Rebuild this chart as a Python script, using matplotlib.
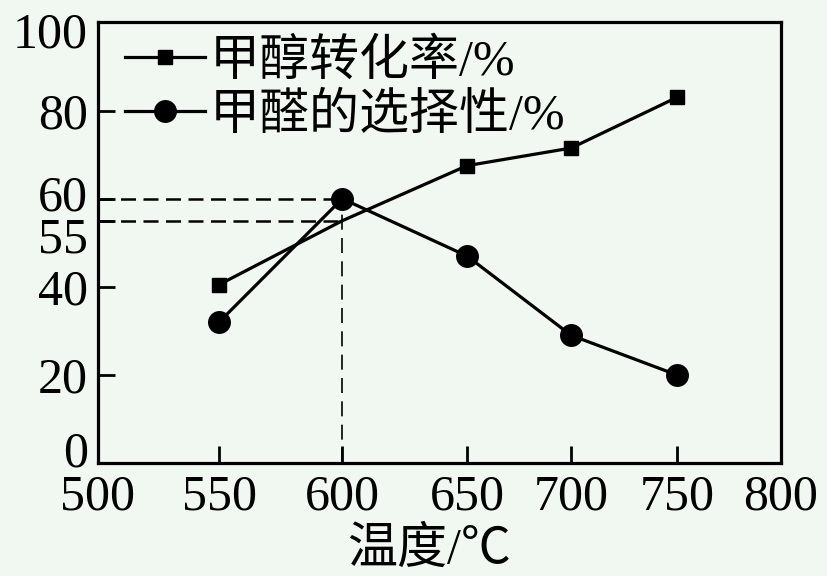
import numpy as np
import matplotlib.pyplot as plt
from matplotlib.transforms import ScaledTranslation

plt.rcParams['font.family'] = ['Liberation Serif', 'Noto Sans CJK SC', 'DejaVu Sans']

# data
temps = [550, 600, 650, 700, 750]
conversion = [40.5, 55, 67.5, 71.5, 83]      # methanol conversion, %
selectivity = [32, 60, 47, 29, 20]            # formaldehyde selectivity, %
x_ticks = [500, 550, 600, 650, 700, 750, 800]
y_ticks = [0, 20, 40, 55, 60, 80, 100]
labels = ['甲醇转化率/%', '甲醛的选择性/%']
xlabel = '温度/℃'

# the printed x axis is not evenly spaced, warp it piecewise
warp = [500, 553.3, 607.4, 662.2, 707.9, 754.4, 800]
def fwd(x):
    return np.interp(x, x_ticks, warp)
def inv(x):
    return np.interp(x, warp, x_ticks)

bg = '#f1f7f1'
fig = plt.figure(figsize=(8.28, 5.76), dpi=100, facecolor=bg)
ax = fig.add_axes([0.118, 0.196, 0.825, 0.765], facecolor=bg)
ax.set_xscale('function', functions=(fwd, inv))

ax.plot(temps, conversion, color='black', lw=2.3, marker='s', ms=10.5,
        markevery=[0, 2, 3, 4], label=labels[0])
ax.plot(temps, selectivity, color='black', lw=2.3, marker='o', ms=15.5,
        label=labels[1])

# guide lines at 600 degC
dash = (0, (6, 3))
ax.plot([500, 600], [60, 60], color='black', lw=1.8, ls=dash)
ax.plot([500, 600], [55, 55], color='black', lw=1.8, ls=dash)
ax.plot([600, 600], [0, 60], color='black', lw=1.2, ls=(0, (9, 5)))

ax.set_xlim(500, 800)
ax.set_ylim(0, 100)
ax.set_xticks(x_ticks)
ax.set_yticks(y_ticks)
ax.minorticks_off()
ax.tick_params(direction='in', length=12, width=2, labelsize=36, pad=7)
ax.tick_params(axis='x', pad=8)
for s in ax.spines.values():
    s.set_linewidth(2.3)
ax.set_xlabel(xlabel, fontsize=36, labelpad=4)
ax.xaxis.set_label_coords(0.485, -0.145)

# nudge a few y labels like the printed figure
shift = {0: 10, 100: -5, 55: -10, 60: 4}
for val, tick in zip(y_ticks, ax.yaxis.get_major_ticks()):
    if val in shift:
        lab = tick.label1
        lab.set_transform(lab.get_transform() +
                          ScaledTranslation(0, shift[val] / 72, fig.dpi_scale_trans))

ax.legend(loc='upper left', frameon=False, fontsize=36, handlelength=1.6,
          handletextpad=0.1, labelspacing=0.15, borderaxespad=0.1,
          borderpad=0.1, bbox_to_anchor=(0.025, 0.985))

fig.savefig('out.png', dpi=100, facecolor=bg)
